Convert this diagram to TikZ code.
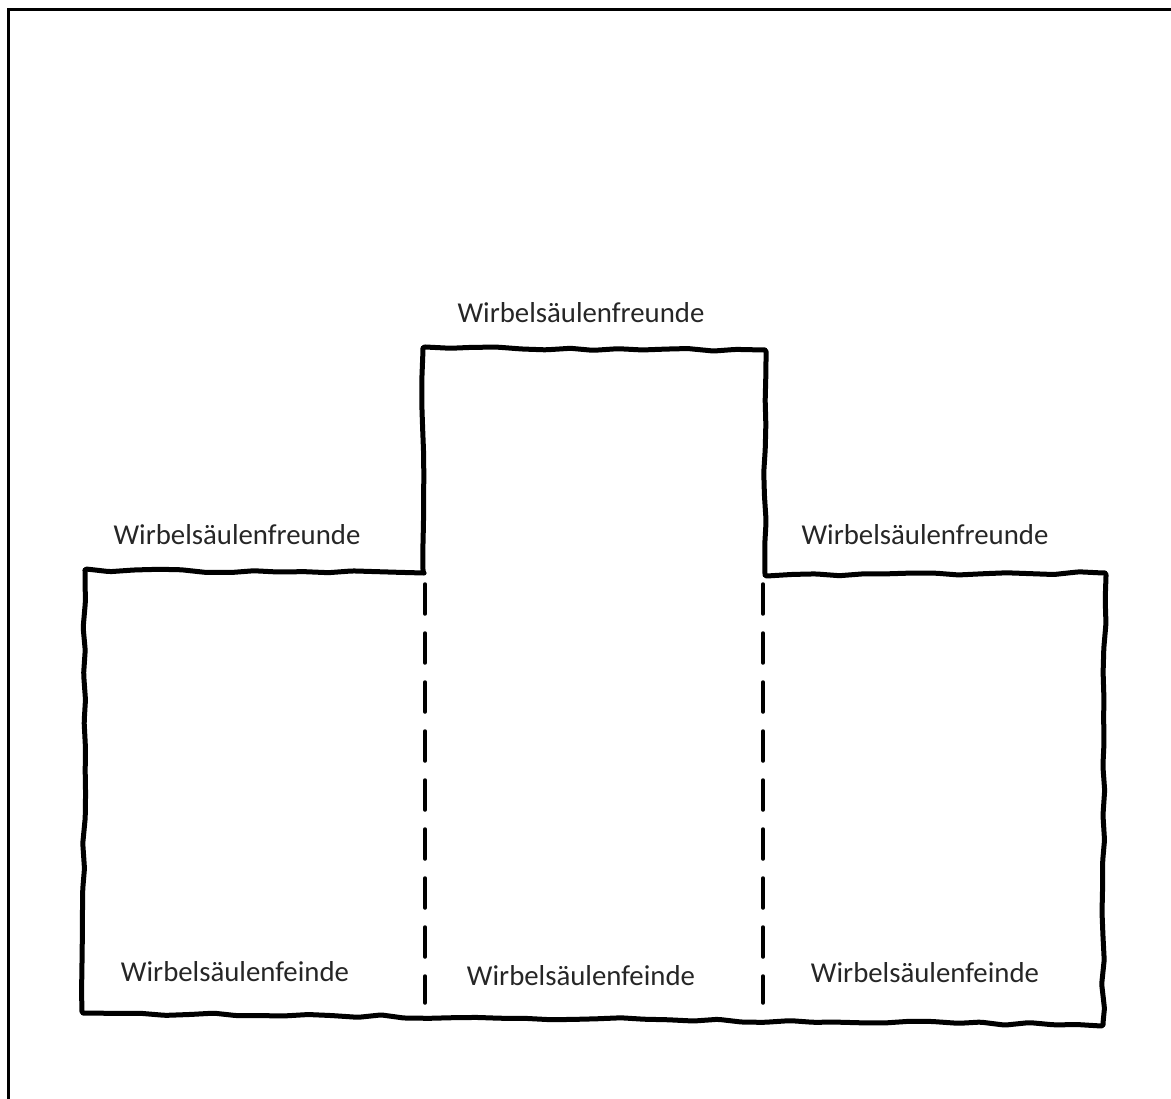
\documentclass[tikz,border=0pt]{standalone}
\usepackage{fontspec}
\setmainfont{Carlito}
\usetikzlibrary{decorations.pathmorphing}

\tikzset{
  wobbly/.style={line width=5pt, line join=round, line cap=round, rounded corners=2pt,
    decorate, decoration={random steps, segment length=24pt, amplitude=1.6pt}},
  cutline/.style={line width=3.5pt, line cap=round, dash pattern=on 30pt off 19pt},
  lbl/.style={text=black!85, font=\fontsize{28.8}{34}\selectfont, inner sep=0pt}
}

\begin{document}
\begin{tikzpicture}[x=1pt,y=-1pt]
  \pgfmathsetseed{11}
  \useasboundingbox (0,0) rectangle (1171,1099);

  % Rahmen, rechts und unten abgeschnitten
  \draw[line width=3pt] (1190,10) -- (8,10) -- (8,1120);

  % Umriss: Mittelblock plus zwei Seitenbloecke
  \draw[wobbly] (423,573) -- (423,348) -- (765,350) -- (765,575)
    -- (1105,573) -- (1103,1025) -- (83,1013) -- (85,570) -- cycle;

  % Trennlinien unten
  \coordinate (cutLtop) at (425,584);
  \coordinate (cutLbot) at (425,1003);
  \coordinate (cutRtop) at (763,584);
  \coordinate (cutRbot) at (763,1003);
  \draw[cutline] (cutLtop) -- (cutLbot);
  \draw[cutline] (cutRtop) -- (cutRbot);

  % Beschriftungen oben
  \node[lbl] (freundM) at (581,313) {Wirbelsäulenfreunde};
  \node[lbl] (freundL) at (237,535) {Wirbelsäulenfreunde};
  \node[lbl] (freundR) at (925,535) {Wirbelsäulenfreunde};

  % Beschriftungen unten
  \node[lbl] (feindL) at (235,972) {Wirbelsäulenfeinde};
  \node[lbl] (feindM) at (581,976) {Wirbelsäulenfeinde};
  \node[lbl] (feindR) at (925,973) {Wirbelsäulenfeinde};
\end{tikzpicture}
\end{document}
